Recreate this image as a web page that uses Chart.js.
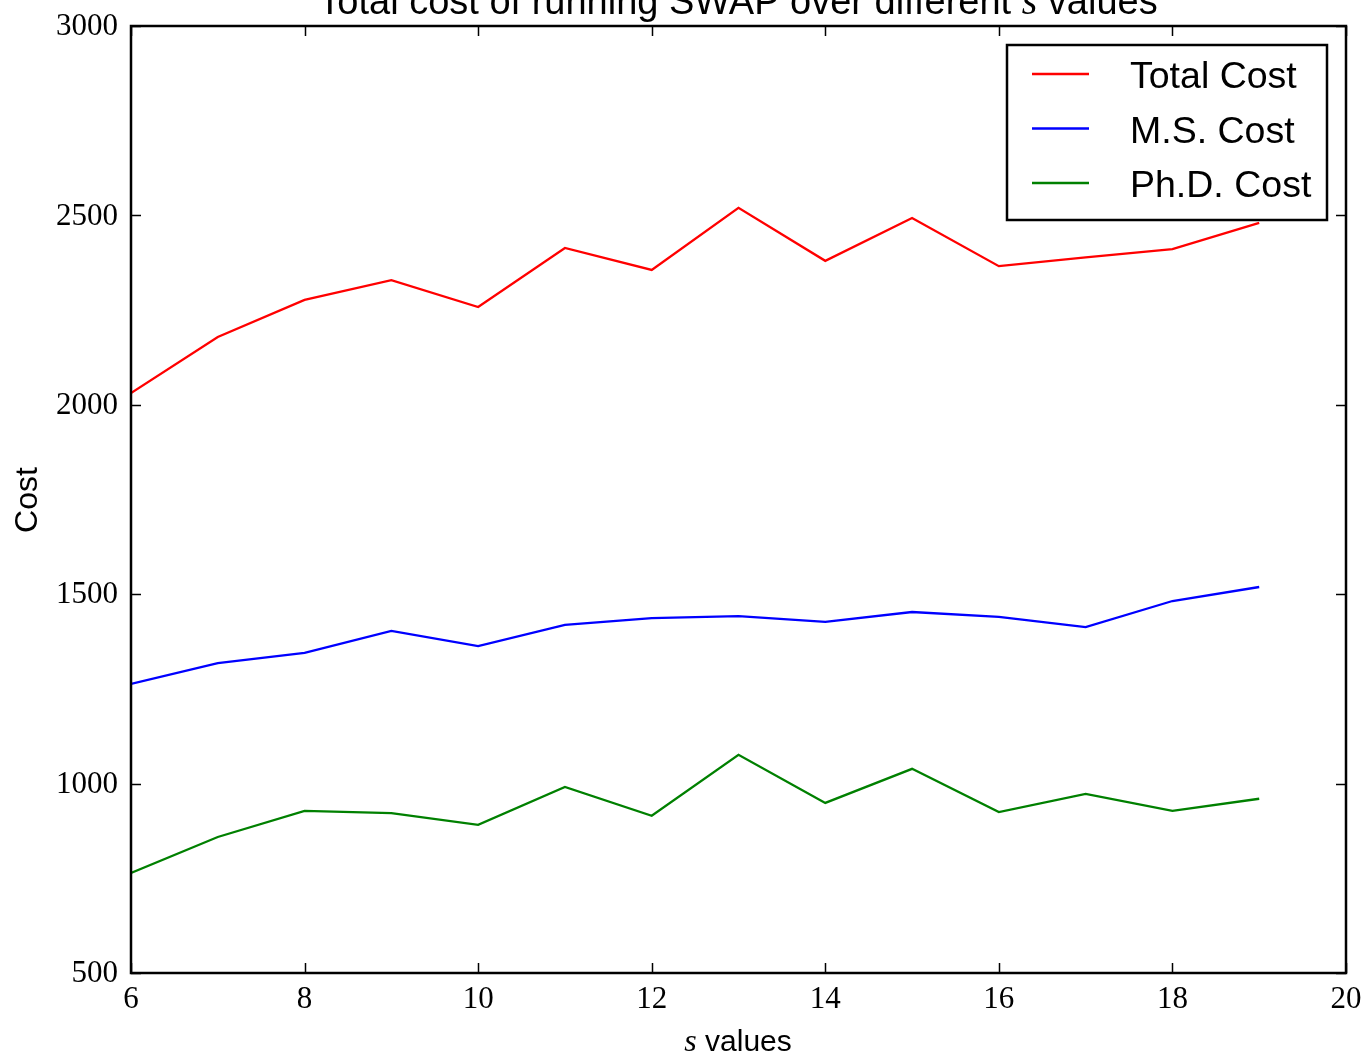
<!DOCTYPE html>
<html>
<head>
<meta charset="utf-8">
<script src="https://cdn.jsdelivr.net/npm/chart.js@4.4.1/dist/chart.umd.min.js"></script>
<style>
  html, body { margin: 0; padding: 0; background: #fff; }
  #wrap { width: 1367px; height: 1057px; }
</style>
</head>
<body>
<div id="wrap"><canvas id="chart"></canvas></div>
<script>
const sValues = [6, 7, 8, 9, 10, 11, 12, 13, 14, 15, 16, 17, 18, 19];
const totalCost = [2031, 2179, 2277, 2329, 2258, 2414, 2356, 2520, 2380, 2493, 2366, 2389, 2411, 2480];
const msCost = [1263, 1318, 1345, 1403, 1363, 1419, 1437, 1442, 1427, 1453, 1440, 1413, 1482, 1519];
const phdCost = [764, 859, 928, 922, 891, 991, 915, 1076, 949, 1039, 925, 973, 928, 960];
const xTicks = [6, 8, 10, 12, 14, 16, 18, 20];
const yTicks = [500, 1000, 1500, 2000, 2500, 3000];

const serif = '"Liberation Serif", "DejaVu Serif", serif';
const sans = '"Liberation Sans", Arial, sans-serif';

function points(values) {
    return sValues.map((s, i) => ({ x: s, y: values[i] }));
}

// draws text made of plain sans parts and italic serif parts, centred at cx
function drawMixed(ctx, parts, cx, y, size) {
    const fonts = parts.map(p => p.it ? `italic ${size + 2}px ${serif}` : `${size}px ${sans}`);
    let total = 0;
    const widths = parts.map((p, i) => {
        ctx.font = fonts[i];
        const w = ctx.measureText(p.t).width;
        total += w;
        return w;
    });
    let x = cx - total / 2;
    ctx.textAlign = 'left';
    ctx.textBaseline = 'alphabetic';
    parts.forEach((p, i) => {
        ctx.font = fonts[i];
        ctx.fillText(p.t, x, y);
        x += widths[i];
    });
}

const axesPlugin = {
    id: 'mplAxes',
    afterDraw(chart) {
        const ctx = chart.ctx;
        const area = chart.chartArea;
        const xs = chart.scales.x;
        const ys = chart.scales.y;
        ctx.save();
        ctx.fillStyle = '#000';
        ctx.strokeStyle = '#000';

        // ticks, inward on all sides
        ctx.lineWidth = 1.5;
        ctx.beginPath();
        xTicks.forEach(v => {
            const px = Math.round(xs.getPixelForValue(v)) + 0.5;
            ctx.moveTo(px, area.bottom); ctx.lineTo(px, area.bottom - 10);
            ctx.moveTo(px, area.top); ctx.lineTo(px, area.top + 10);
        });
        yTicks.forEach(v => {
            const py = Math.round(ys.getPixelForValue(v)) + 0.5;
            ctx.moveTo(area.left, py); ctx.lineTo(area.left + 10, py);
            ctx.moveTo(area.right, py); ctx.lineTo(area.right - 10, py);
        });
        ctx.stroke();

        // frame
        ctx.lineWidth = 2.5;
        ctx.strokeRect(area.left, area.top, area.right - area.left, area.bottom - area.top);

        // tick labels
        ctx.font = `31px ${serif}`;
        ctx.textAlign = 'center';
        ctx.textBaseline = 'alphabetic';
        xTicks.forEach(v => ctx.fillText(String(v), xs.getPixelForValue(v), 1008));
        ctx.textAlign = 'right';
        ctx.textBaseline = 'middle';
        yTicks.forEach(v => ctx.fillText(String(v), 118, ys.getPixelForValue(v) + 1));

        // title and axis labels
        drawMixed(ctx, [{ t: 'Total cost of running SWAP over different ' }, { t: 's', it: true }, { t: ' values' }], 738, 14, 38);
        drawMixed(ctx, [{ t: 's', it: true }, { t: ' values' }], 738, 1051, 30);
        ctx.save();
        ctx.translate(37, 500);
        ctx.rotate(-Math.PI / 2);
        drawMixed(ctx, [{ t: 'Cost' }], 0, 0, 32);
        ctx.restore();

        // legend
        const box = { x: 1007, y: 45, w: 320, h: 175 };
        ctx.fillStyle = '#fff';
        ctx.fillRect(box.x, box.y, box.w, box.h);
        ctx.lineWidth = 2.5;
        ctx.strokeRect(box.x, box.y, box.w, box.h);
        ctx.font = `37.5px ${sans}`;
        ctx.textAlign = 'left';
        ctx.textBaseline = 'alphabetic';
        chart.data.datasets.forEach((ds, i) => {
            const ly = 74 + i * 54.5;
            ctx.strokeStyle = ds.borderColor;
            ctx.lineWidth = ds.borderWidth;
            ctx.beginPath();
            ctx.moveTo(1032, ly);
            ctx.lineTo(1089, ly);
            ctx.stroke();
            ctx.fillStyle = '#000';
            ctx.fillText(ds.label, 1130, ly + 14);
        });
        ctx.restore();
    }
};

new Chart(document.getElementById('chart'), {
    type: 'line',
    data: {
        datasets: [
            { label: 'Total Cost', data: points(totalCost), borderColor: '#ff0000', borderWidth: 2.3 },
            { label: 'M.S. Cost', data: points(msCost), borderColor: '#0000ff', borderWidth: 2.3 },
            { label: 'Ph.D. Cost', data: points(phdCost), borderColor: '#008000', borderWidth: 2.3 }
        ]
    },
    options: {
        responsive: true,
        maintainAspectRatio: false,
        animation: false,
        layout: { padding: { left: 131, right: 21, top: 26, bottom: 84 } },
        elements: { point: { radius: 0 }, line: { tension: 0, fill: false } },
        plugins: { legend: { display: false }, tooltip: { enabled: false } },
        scales: {
            x: { type: 'linear', min: 6, max: 20, display: false },
            y: { type: 'linear', min: 500, max: 3000, display: false }
        }
    },
    plugins: [axesPlugin]
});
</script>
</body>
</html>
